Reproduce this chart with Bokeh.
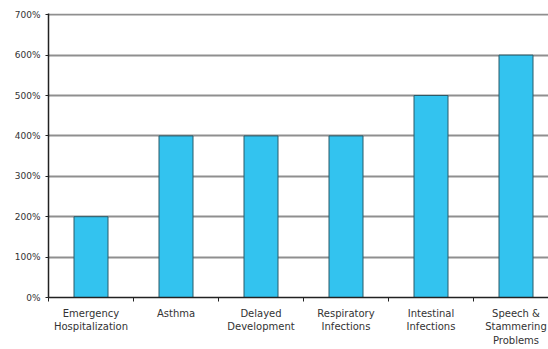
from bokeh.plotting import figure
from bokeh.models import Range1d, FixedTicker
from bokeh.embed import file_html
from bokeh.resources import INLINE

categories = ["Emergency\nHospitalization", "Asthma", "Delayed\nDevelopment",
              "Respiratory\nInfections", "Intestinal\nInfections",
              "Speech &\nStammering\nProblems"]
values = [200, 400, 400, 400, 500, 600]
y_ticks = [0, 100, 200, 300, 400, 500, 600, 700]

centers = [i + 0.5 for i in range(len(categories))]
bounds = list(range(len(categories) + 1))

p = figure(width=548, height=349, output_backend="svg", toolbar_location=None,
           x_range=Range1d(0, 500 / 85), y_range=Range1d(0, 703),
           min_border_left=48, min_border_right=0, min_border_top=13,
           min_border_bottom=52)
p.outline_line_color = None
p.background_fill_color = "white"

p.vbar(x=centers, top=values, width=0.4, fill_color="#33c3ef",
       line_color="#2b5a68", line_width=1)

p.xgrid.grid_line_color = None
p.ygrid.ticker = FixedTicker(ticks=y_ticks)
p.ygrid.grid_line_color = "#8f8f8f"
p.ygrid.grid_line_width = 2
p.ygrid.level = "underlay"

p.yaxis.ticker = FixedTicker(ticks=y_ticks)
p.yaxis.major_label_overrides = {v: f"{v}%" for v in y_ticks}
p.yaxis.axis_line_color = "#222222"
p.yaxis.axis_line_width = 1.5
p.yaxis.major_tick_line_color = "#222222"
p.yaxis.major_tick_out = 3
p.yaxis.major_tick_in = 0
p.yaxis.minor_tick_line_color = None
p.yaxis.major_label_text_font = "DejaVu Sans"
p.yaxis.major_label_text_font_size = "9px"
p.yaxis.major_label_text_color = "#333333"
p.yaxis.major_label_standoff = 5

p.xaxis.ticker = FixedTicker(ticks=centers, minor_ticks=bounds)
p.xaxis.major_label_overrides = {c: lab for c, lab in zip(centers, categories)}
p.xaxis.major_tick_line_color = None
p.xaxis.minor_tick_line_color = "#222222"
p.xaxis.minor_tick_out = 4
p.xaxis.minor_tick_in = 0
p.xaxis.axis_line_color = "#222222"
p.xaxis.axis_line_width = 1.5
p.xaxis.major_label_text_font = "DejaVu Sans"
p.xaxis.major_label_text_font_size = "10px"
p.xaxis.major_label_text_line_height = 1.25
p.xaxis.major_label_text_color = "#333333"
p.xaxis.major_label_standoff = 4

open("out.html", "w").write(file_html(p, INLINE))
